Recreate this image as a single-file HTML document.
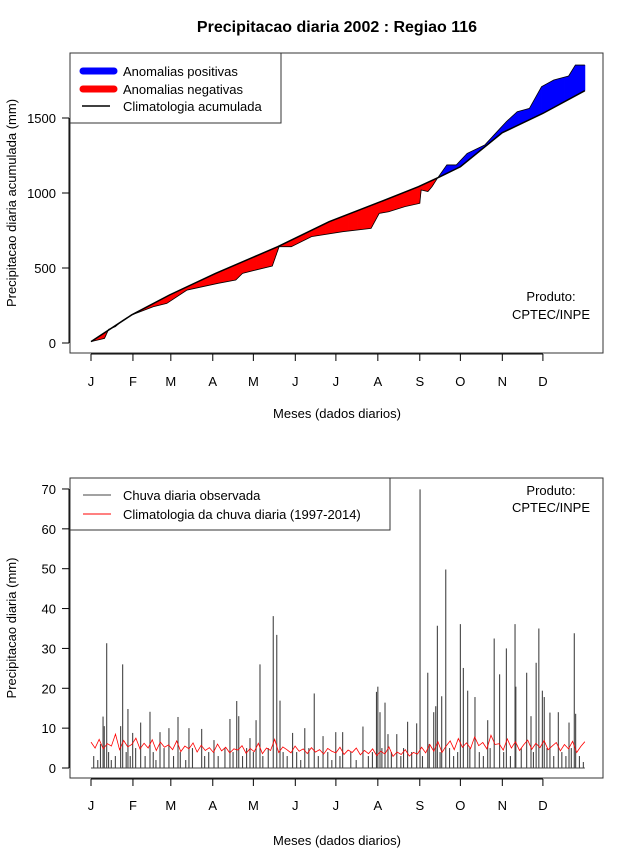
<!DOCTYPE html>
<html><head><meta charset="utf-8"><style>
body{margin:0;background:#fff}
svg{display:block;font-family:"Liberation Sans",sans-serif}
</style></head><body>
<svg id="c" width="640" height="850" xmlns="http://www.w3.org/2000/svg">
<text x="337" y="32" font-size="16" font-weight="bold" text-anchor="middle">Precipitacao diaria 2002 : Regiao 116</text>
<g id="topPanel"></g>
<g id="botPanel"></g>
</svg>
<script>
// ---- Top chart data (cumulative, mm) ----
const climDays = [0,30,58,92,138,176,214,242,258,273,304,334,365];
const climCum = [9,187,320,464,642,809,942,1042,1109,1175,1402,1531,1682];
const obsDays = [0,10,13,18,23,30,46,56,71,94,107,112,122,134,139,148,163,186,207,213,220,232,243,244,249,252,256,263,270,278,291,299,307,315,324,333,342,353,358,365];
const obsCum = [9,31,91,109,148,187,242,264,353,398,420,464,487,513,642,642,709,742,764,864,875,909,931,1020,1010,1042,1098,1187,1187,1264,1320,1398,1476,1542,1564,1709,1753,1780,1853,1853];
const topTicks = [0,500,1000,1500];
const months = ["J","F","M","A","M","J","J","A","S","O","N","D"];
const monthStart = [0,31,59,90,120,151,181,212,243,273,304,334];
// ---- Bottom chart data (daily, mm) ----
const rainDays = [11.6,8.9,9.8,23.4,21.9,27.3,30.8,36.7,43.6,51,57.6,64.3,72.4,81.8,90.9,102.7,107.7,109.2,117.5,122,124.9,134.7,137.3,139.7,149,158,165,171.5,180.9,186,201,211,212,213.6,217.3,219.5,226,234,240.7,243.2,248.9,253.3,254.8,256,259.2,262.2,273,275.2,278.4,283.8,293.2,298,302,307,313.4,314,322,325.2,329,331,333.6,335,339.2,345.4,353.3,357.2,358.2,363.9,
 2,5,7,13,15,18,26,29,33,40,46,48,54,61,66,70,75,84,87,94,99,105,112,115,120,127,131,142,145,152,155,161,168,175,178,184,192,196,205,208,215,222,229,231,237,245,250,258,265,268,271,280,287,290,295,305,310,318,327,337,342,348,351,355,361];
const rainVals = [31.3,12.9,10.5,26,10.5,14.8,8.8,11.4,14.1,9,10,12.8,10,9.8,7,12.3,16.8,13,7.5,12,26,38.1,33.4,16.9,8.8,10,18.7,8,9,9,10.4,19.1,20.4,14,16.4,8.5,8.5,11.6,11.2,69.9,23.9,14,15.5,35.7,18,49.8,36.1,25.1,19.4,17.8,12,32.5,23.5,30,36.1,20.4,23.9,13,26.4,35,19.4,17.8,13.9,14,11.4,33.8,13.6,1.5,
 3,2,6,4,2,3,4,3,5,3,4,2,5,3,4,2,5,3,4,3,5,4,3,5,4,3,5,4,3,4,2,5,3,4,2,3,4,2,3,4,5,4,3,5,4,3,6,4,5,3,4,5,4,3,5,4,3,5,4,5,3,4,3,5,3];
const climDaily = [6.5,5.0,7.2,4.8,6.1,5.5,8.5,4.6,6.9,5.3,5.9,7.5,4.8,6.2,5.0,7.1,4.4,6.5,5.2,5.8,
 4.6,6.8,4.1,5.5,4.8,6.3,4.0,5.7,4.4,5.1,3.9,6.0,4.3,5.2,3.8,4.8,4.5,5.6,3.7,4.9,
 4.1,6.2,3.6,5.0,4.4,7.2,3.9,5.3,4.6,3.8,5.5,4.2,4.8,3.6,5.1,4.0,4.6,3.5,4.9,4.2,
 3.8,5.2,3.4,4.5,3.9,5.0,3.3,4.4,3.6,4.8,3.1,4.2,3.5,5.3,2.9,4.0,3.4,4.6,3.0,3.9,
 3.5,5.2,3.8,5.9,4.2,6.6,3.9,5.5,6.8,4.6,7.4,5.2,6.3,4.9,7.8,5.6,6.4,4.8,8.2,5.9,
 6.1,4.5,7.3,5.0,6.6,4.4,5.8,7.0,4.7,6.2,5.1,6.9,4.6,5.5,6.4,4.3,5.9,4.8,6.7,3.9,5.4,6.6];
const botTicks = [0,10,20,30,40,50,60,70];

const NS="http://www.w3.org/2000/svg";
function mk(p,tag,attrs,txt){const e=document.createElementNS(NS,tag);for(const k in attrs)e.setAttribute(k,attrs[k]);if(txt!==undefined)e.textContent=txt;p.appendChild(e);return e;}
const xDay = d => 91 + d*1.353;
const yTop = v => 343 - v*0.15;
const yBot = v => 768 - v*3.986;
function interp(ds,vs,d){for(let i=1;i<ds.length;i++){if(d<=ds[i]){const t=(d-ds[i-1])/((ds[i]-ds[i-1])||1);return vs[i-1]+t*(vs[i]-vs[i-1]);}}return vs[vs.length-1];}

function axes(g,y0,y1,ticks,yf,ylab,labY,titleY){
  const box=mk(g,'rect',{x:70,y:y0,width:533,height:y1-y0,fill:'none',stroke:'#333','stroke-width':1});
  
  const xa=mk(g,'g',{});
  mk(xa,'line',{x1:xDay(0),x2:xDay(334),y1:y1+1,y2:y1+1,stroke:'#000'});
  monthStart.forEach((d,i)=>{mk(xa,'line',{x1:xDay(d),x2:xDay(d),y1:y1+1,y2:y1+8,stroke:'#000'});
    const t=mk(xa,'text',{x:xDay(d),y:labY,'font-size':13,'text-anchor':'middle'},months[i]);
    });
  const xt=mk(g,'text',{x:337,y:titleY,'font-size':13,'text-anchor':'middle'},'Meses (dados diarios)');
  
  const ya=mk(g,'g',{});
  mk(ya,'line',{x1:69,x2:69,y1:yf(ticks[0]),y2:yf(ticks[ticks.length-1]),stroke:'#000'});
  ticks.forEach(v=>{mk(ya,'line',{x1:62,x2:69,y1:yf(v),y2:yf(v),stroke:'#000'});
    const t=mk(ya,'text',{x:56,y:yf(v)+5,'font-size':13,'text-anchor':'end'},String(v));
    });
  const yc=(y0+y1)/2;
  const yt=mk(g,'text',{x:16,y:yc,'font-size':13,'text-anchor':'middle',transform:`rotate(-90 16 ${yc})`},ylab);
  
}

// ---- TOP ----
const topG=document.getElementById('topPanel');
axes(topG,53,353,topTicks,yTop,'Precipitacao diaria acumulada (mm)',386,418);
const fills=mk(topG,'g',{});
for(let d=0;d<365;d++){
  const o0=interp(obsDays,obsCum,d),o1=interp(obsDays,obsCum,d+1),c0=interp(climDays,climCum,d),c1=interp(climDays,climCum,d+1);
  const pos=(o0+o1)>(c0+c1);
  const p=mk(fills,'polygon',{points:`${xDay(d)},${yTop(o0)} ${xDay(d+1)+0.4},${yTop(o1)} ${xDay(d+1)+0.4},${yTop(c1)} ${xDay(d)},${yTop(c0)}`,fill:pos?'#0000ff':'#ff0000'});
  
  
}
const obsLine=mk(topG,'polyline',{points:obsDays.map((d,i)=>`${xDay(d)},${yTop(obsCum[i])}`).join(' '),fill:'none',stroke:'#000','stroke-width':0.8});

const climLine=mk(topG,'polyline',{points:climDays.map((d,i)=>`${xDay(d)},${yTop(climCum[i])}`).join(' '),fill:'none',stroke:'#000','stroke-width':1.5});

const lg=mk(topG,'g',{});
mk(lg,'rect',{x:70,y:53,width:211,height:70,fill:'#fff',stroke:'#333'});
[['#0000ff',7,'Anomalias positivas',71],['#ff0000',7,'Anomalias negativas',89],['#000',1.5,'Climatologia acumulada',106]].forEach(e=>{
  const g=mk(lg,'g',{});
  mk(g,'line',{x1:e[1]>2?83:82,x2:e[1]>2?114:110,y1:e[3],y2:e[3],stroke:e[0],'stroke-width':e[1],'stroke-linecap':e[1]>2?'round':'butt'});
  mk(g,'text',{x:123,y:e[3]+5,'font-size':13},e[2]);});
const pr=mk(topG,'text',{x:551,y:301,'font-size':13,'text-anchor':'middle'},'Produto:');
const pr2=mk(topG,'text',{x:551,y:319,'font-size':13,'text-anchor':'middle'},'CPTEC/INPE');

// ---- BOTTOM ----
const botG=document.getElementById('botPanel');
axes(botG,478,778,botTicks,yBot,'Precipitacao diaria (mm)',810,845);
mk(botG,'line',{x1:xDay(0),x2:xDay(365),y1:yBot(0),y2:yBot(0),stroke:'#444','stroke-width':1});
const bars=mk(botG,'g',{});
rainDays.forEach((d,i)=>{const b=mk(bars,'line',{x1:xDay(d),x2:xDay(d),y1:yBot(0),y2:yBot(rainVals[i]),stroke:'#444','stroke-width':1.1});
  });
const n=climDaily.length;
const cl=mk(botG,'polyline',{points:climDaily.map((v,i)=>`${xDay(i*365/(n-1))},${yBot(v)}`).join(' '),fill:'none',stroke:'#ff0000','stroke-width':0.8});

const lg2=mk(botG,'g',{});
mk(lg2,'rect',{x:70,y:478,width:320,height:52,fill:'#fff',stroke:'#333'});
[['#444','Chuva diaria observada',495],['#ff0000','Climatologia da chuva diaria (1997-2014)',514]].forEach(e=>{
  const g=mk(lg2,'g',{});
  mk(g,'line',{x1:83,x2:111,y1:e[2],y2:e[2],stroke:e[0],'stroke-width':1});
  mk(g,'text',{x:123,y:e[2]+5,'font-size':13},e[1]);});
const pb=mk(botG,'text',{x:551,y:495,'font-size':13,'text-anchor':'middle'},'Produto:');
const pb2=mk(botG,'text',{x:551,y:512,'font-size':13,'text-anchor':'middle'},'CPTEC/INPE');
</script>
</body></html>
